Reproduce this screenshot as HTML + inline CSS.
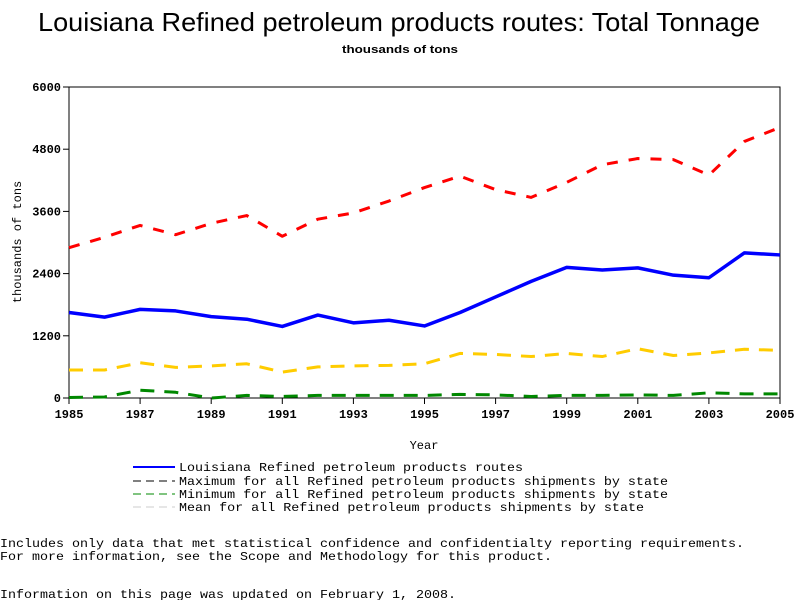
<!DOCTYPE html>
<html><head><meta charset="utf-8"><style>
body{margin:0;background:#fff;width:800px;height:600px;overflow:hidden}
svg text{font-family:"Liberation Mono",monospace;fill:#000}
</style></head><body>
<svg width="800" height="600" id="c">
<text x="38" y="31" textLength="722" lengthAdjust="spacingAndGlyphs" style="font-family:'Liberation Sans',sans-serif;font-size:26px">Louisiana Refined petroleum products routes: Total Tonnage</text>
<text x="342" y="53" textLength="116" lengthAdjust="spacingAndGlyphs" style="font-family:'Liberation Sans',sans-serif;font-size:11px;font-weight:bold">thousands of tons</text>
<text transform="translate(21,242) rotate(-90)" text-anchor="middle" font-size="12">thousands of tons</text>
<text x="424" y="449" text-anchor="middle" font-size="12">Year</text>
<g id="plot"></g>
<g font-size="12">
<line x1="133" y1="467" x2="175" y2="467" stroke="#00f" stroke-width="2"/>
<text x="179" y="471" textLength="344" lengthAdjust="spacingAndGlyphs">Louisiana Refined petroleum products routes</text>
<line x1="133" y1="481" x2="175" y2="481" stroke="#000" stroke-dasharray="8,5"/>
<text x="179" y="485" textLength="489" lengthAdjust="spacingAndGlyphs">Maximum for all Refined petroleum products shipments by state</text>
<line x1="133" y1="494" x2="175" y2="494" stroke="#080" stroke-dasharray="8,5"/>
<text x="179" y="498" textLength="489" lengthAdjust="spacingAndGlyphs">Minimum for all Refined petroleum products shipments by state</text>
<line x1="133" y1="507" x2="175" y2="507" stroke="#ccc" stroke-dasharray="8,5"/>
<text x="179" y="511" textLength="465" lengthAdjust="spacingAndGlyphs">Mean for all Refined petroleum products shipments by state</text>
</g>
<text x="0" y="547" font-size="12" textLength="744" lengthAdjust="spacingAndGlyphs">Includes only data that met statistical confidence and confidentialty reporting requirements.</text>
<text x="0" y="560" font-size="12" textLength="552" lengthAdjust="spacingAndGlyphs">For more information, see the Scope and Methodology for this product.</text>
<text x="0" y="598" font-size="12" textLength="456" lengthAdjust="spacingAndGlyphs">Information on this page was updated on February 1, 2008.</text>
</svg>
<script>
const years=[1985,1986,1987,1988,1989,1990,1991,1992,1993,1994,1995,1996,1997,1998,1999,2000,2001,2002,2003,2004,2005];
const louisiana=[1650,1560,1710,1680,1570,1520,1380,1600,1450,1500,1390,1650,1950,2250,2520,2470,2510,2370,2320,2800,2760];
const maximum=[2900,3100,3330,3150,3370,3520,3120,3450,3570,3800,4060,4280,4020,3870,4160,4500,4620,4600,4300,4950,5220];
const mean=[540,540,680,590,620,660,500,600,620,630,660,860,840,800,860,800,950,820,870,940,920];
const minimum=[10,20,150,110,0,50,30,50,50,50,50,70,60,30,50,50,60,50,100,80,80];
const yTicks=[0,1200,2400,3600,4800,6000];
const xTicks=[1985,1987,1989,1991,1993,1995,1997,1999,2001,2003,2005];
const NS="http://www.w3.org/2000/svg";
const X0=69,X1=780,Y0=398,Y1=87;
const xs=v=>X0+(v-1985)/20*(X1-X0);
const ys=v=>Y0-v/6000*(Y0-Y1);
const g=document.getElementById('plot');
function mk(t,a){const e=document.createElementNS(NS,t);for(const k in a)e.setAttribute(k,a[k]);g.appendChild(e);return e;}
const frame=mk('rect',{x:X0,y:Y1,width:X1-X0,height:Y0-Y1,fill:'none',stroke:'#000','stroke-width':1});


yTicks.forEach(v=>{
 const l=mk('line',{x1:X0-6,x2:X0,y1:ys(v),y2:ys(v),stroke:'#000'});
 
 
 const t=mk('text',{x:X0-8,y:ys(v)+4,'text-anchor':'end','font-size':12,'font-weight':'bold'});t.textContent=v;
 
 
});
xTicks.forEach(v=>{
 const l=mk('line',{x1:xs(v),x2:xs(v),y1:Y0,y2:Y0+6,stroke:'#000'});
 
 
 const t=mk('text',{x:xs(v),y:Y0+20,'text-anchor':'middle','font-size':12,'font-weight':'bold'});t.textContent=v;
 
 
});
function series(d,color,w,dash,name){
 const p=mk('polyline',{points:d.map((v,i)=>xs(years[i])+','+ys(v)).join(' '),fill:'none',stroke:color,'stroke-width':w,'stroke-linejoin':'round'});
 if(dash)p.setAttribute('stroke-dasharray',dash);
 
 
}
series(minimum,'#080',3,'14,10','line-minimum');
series(mean,'#fc0',3,'14,10','line-mean');
series(maximum,'#f00',3,'11,11','line-maximum');
series(louisiana,'#00f',3.5,null,'line-louisiana');
</script>
</body></html>
